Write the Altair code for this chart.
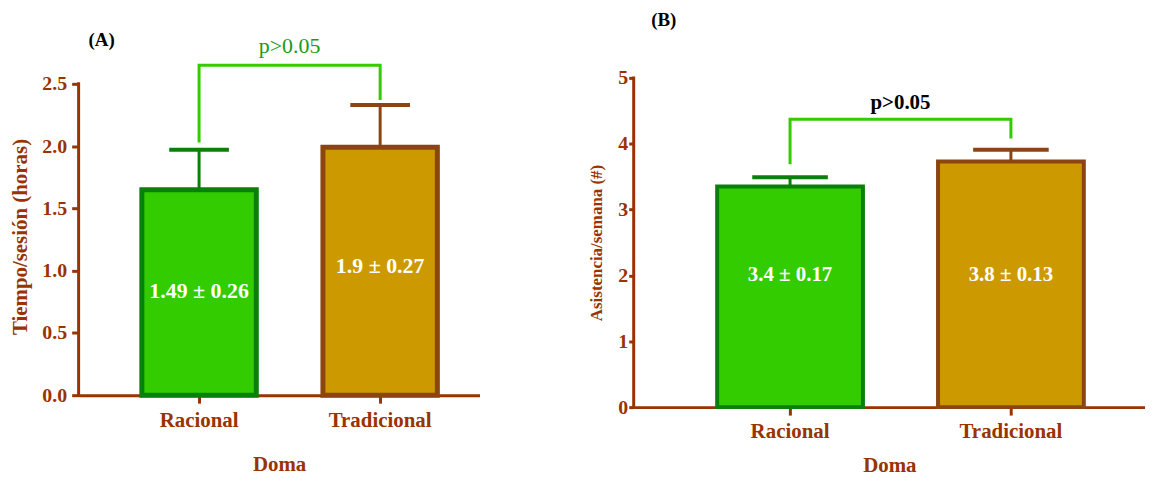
import altair as alt
import pandas as pd

cats = ["Racional", "Tradicional"]
fill_colors = ["#33cc00", "#cc9900"]
stroke_colors = ["#0a7f0a", "#8b4513"]

a_mean = [1.65, 1.99]
a_err = [0.32, 0.34]
a_text = ["1.49 ± 0.26", "1.9 ± 0.27"]
a_text_y = [0.84, 1.04]
a_bracket_y = [2.03, 2.65, 2.65, 2.37]
a_p_y = 2.80
a_tag_y = 2.85
a_ticks = [0.0, 0.5, 1.0, 1.5, 2.0, 2.5]

b_mean = [3.35, 3.73]
b_err = [0.14, 0.18]
b_text = ["3.4 ± 0.17", "3.8 ± 0.13"]
b_text_y = [2.0, 2.0]
b_bracket_y = [3.69, 4.37, 4.37, 4.08]
b_p_y = 4.62
b_tag_y = 5.88
b_ticks = [0, 1, 2, 3, 4, 5]

bracket_x = ["Racional", "Racional", "Tradicional", "Tradicional"]
bracket_order = [0, 1, 2, 3]

BROWN = "#993300"
FONT = "Liberation Serif"


def panel(mean, err, text, text_y, bracket_y, p_y, tag, tag_y, tag_dx, ticks,
          ymax, fmt, ytitle, ytitle_size, ytitle_pad, ytick, ylabel_pad,
          xtitle_pad, width, height, p_inner, p_outer, align, cap, bar_sw,
          bar_text_size, p_color, p_weight, p_size, p_dx):
    df = pd.DataFrame({
        "cat": cats,
        "mean": mean,
        "top": [m + e for m, e in zip(mean, err)],
        "text": text,
        "ty": text_y,
        "fc": fill_colors,
        "sc": stroke_colors,
    })
    bdf = pd.DataFrame({"cat": bracket_x, "val": bracket_y, "o": bracket_order})
    pdf = pd.DataFrame({"cat": [cats[0]], "val": [p_y], "t": ["p>0.05"]})
    tdf = pd.DataFrame({"cat": [cats[0]], "val": [tag_y], "t": [tag]})
    adf = pd.DataFrame({"val": [ticks[0]], "val2": [ticks[-1]]})

    x_axis = alt.Axis(title="Doma", labelAngle=0, labelFontSize=21,
                      titleFontSize=21, tickSize=8, labelPadding=6,
                      titlePadding=xtitle_pad)
    x_scale = alt.Scale(domain=cats, paddingInner=p_inner, paddingOuter=p_outer,
                        align=align)
    y_axis = alt.Axis(title=ytitle, values=ticks, format=fmt, domain=False,
                      labelFontSize=20, titleFontSize=ytitle_size,
                      tickSize=ytick, labelPadding=ylabel_pad,
                      titlePadding=ytitle_pad)
    y_scale = alt.Scale(domain=[0, ymax], nice=False, zero=True)

    def X():
        return alt.X("cat:N", scale=x_scale, axis=x_axis, sort=cats)

    def Y(f):
        return alt.Y(f, scale=y_scale, axis=y_axis)

    bars = alt.Chart(df).mark_bar(strokeWidth=bar_sw).encode(
        x=X(), y=Y("mean:Q"),
        color=alt.Color("fc:N", scale=None),
        stroke=alt.Stroke("sc:N", scale=None),
    )
    rules = alt.Chart(df).mark_rule(strokeWidth=3).encode(
        x=X(), y=Y("mean:Q"), y2="top:Q",
        color=alt.Color("sc:N", scale=None),
    )
    caps = alt.Chart(df).mark_tick(size=cap, thickness=4, opacity=1).encode(
        x=X(), y=Y("top:Q"),
        color=alt.Color("sc:N", scale=None),
    )
    labels = alt.Chart(df).mark_text(color="white", font=FONT,
                                     fontSize=bar_text_size,
                                     fontWeight="bold").encode(
        x=X(), y=Y("ty:Q"), text="text:N")
    bracket = alt.Chart(bdf).mark_line(color="#33cc00", strokeWidth=3,
                                       strokeJoin="miter").encode(
        x=X(), y=Y("val:Q"), order="o:Q")
    ptext = alt.Chart(pdf).mark_text(color=p_color, font=FONT, fontSize=p_size,
                                     fontWeight=p_weight, dx=p_dx).encode(
        x=X(), y=Y("val:Q"), text="t:N")
    tagtext = alt.Chart(tdf).mark_text(color="black", font=FONT, fontSize=19,
                                       fontWeight="bold", dx=tag_dx).encode(
        x=X(), y=Y("val:Q"), text="t:N")
    yline = alt.Chart(adf).mark_rule(color=BROWN, strokeWidth=3,
                                     strokeCap="square").encode(
        x=alt.value(0), y=Y("val:Q"), y2="val2:Q")

    return alt.layer(bars, rules, caps, labels, bracket, ptext, tagtext,
                     yline).properties(width=width, height=height)


pa = panel(a_mean, a_err, a_text, a_text_y, a_bracket_y, a_p_y, "(A)", a_tag_y,
           -98, a_ticks, 2.548, ".1f", "Tiempo/sesión (horas)", 21, 11, 7, 5, 24,
           403, 319, 0.368, 0.291, 0.6, 60, 5, 22,
           "#1a9a1a", "normal", 22, 91)
pb = panel(b_mean, b_err, b_text, b_text_y, b_bracket_y, b_p_y, "(B)", b_tag_y,
           -127, b_ticks, 5, "d", "Asistencia/semana (#)", 17, 12, 5, 1, 13,
           514, 331, 0.34, 0.3275, 0.577, 76, 4, 21,
           "black", "bold", 21, 111)

chart = alt.hconcat(pa, pb, spacing=155).properties(
    bounds="flush",
    padding={"left": 2, "top": 1, "right": 0, "bottom": 0},
).configure_view(stroke=None).configure_axis(
    domainColor=BROWN, domainWidth=3, tickColor=BROWN, tickWidth=3,
    labelColor=BROWN, labelFont=FONT, labelFontWeight="bold",
    titleColor=BROWN, titleFont=FONT, titleFontWeight="bold", grid=False,
)

chart.save("out.html", embed_options={"renderer": "svg", "actions": False})
